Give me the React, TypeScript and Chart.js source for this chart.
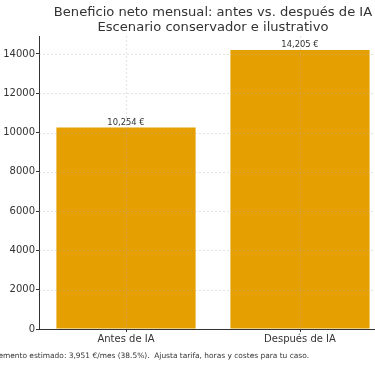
import React, { useEffect, useRef } from "react";
import { Chart, registerables } from "chart.js";

Chart.register(...registerables);

const categories = ["Antes de IA", "Después de IA"];
const netProfit = [10254, 14205];
const valueLabels = ["10,254 €", "14,205 €"];
const yTicks = [0, 2000, 4000, 6000, 8000, 10000, 12000, 14000];
const titleLines = [
  "Beneficio neto mensual: antes vs. después de IA",
  "Escenario conservador e ilustrativo",
];
const footnote =
  "Incremento estimado: 3,951 €/mes (38.5%).  Ajusta tarifa, horas y costes para tu caso.";
const yMax = 14915;

const FONT = "'DejaVu Sans', sans-serif";
const TEXT = "#333333";
const BAR = "#E69F00";
const SHIFT = 40; // canvas is shifted left so the figure is cropped like the reference
const CANVAS_W = 435;
const CANVAS_H = 366;

const overlay = {
  id: "overlay",
  afterDatasetsDraw(chart: any) {
    const ctx = chart.ctx;
    const { left, right, top, bottom } = chart.chartArea;
    const xs = chart.scales.x;
    const ys = chart.scales.y;
    // grid lines (drawn over bars like matplotlib default)
    ctx.save();
    ctx.strokeStyle = "rgba(176,176,176,0.45)";
    ctx.lineWidth = 0.8;
    ctx.setLineDash([2, 2]);
    yTicks.forEach((v) => {
      const y = Math.round(ys.getPixelForValue(v)) + 0.5;
      if (v === 0) return;
      ctx.beginPath();
      ctx.moveTo(left, y);
      ctx.lineTo(right, y);
      ctx.stroke();
    });
    categories.forEach((_, i) => {
      const x = Math.round(xs.getPixelForValue(i)) + 0.5;
      ctx.beginPath();
      ctx.moveTo(x, top);
      ctx.lineTo(x, bottom);
      ctx.stroke();
    });
    ctx.restore();

    // value labels
    ctx.save();
    ctx.fillStyle = TEXT;
    ctx.font = `8.4px ${FONT}`;
    ctx.textAlign = "center";
    ctx.textBaseline = "bottom";
    const meta = chart.getDatasetMeta(0);
    meta.data.forEach((bar: any, i: number) => {
      ctx.fillText(valueLabels[i], bar.x, bar.y - 1);
    });
    ctx.restore();
  },
  afterDraw(chart: any) {
    const ctx = chart.ctx;
    const { left, right } = chart.chartArea;
    const cx = (left + right) / 2;
    ctx.save();
    ctx.fillStyle = TEXT;
    ctx.textAlign = "center";
    ctx.textBaseline = "middle";
    ctx.font = `13.1px ${FONT}`;
    ctx.fillText(titleLines[0], cx, 13);
    ctx.fillText(titleLines[1], cx, 28);
    ctx.font = `7.45px ${FONT}`;
    ctx.textAlign = "right";
    ctx.fillText(footnote, SHIFT + 309, 356);
    ctx.restore();
  },
};

export default function App() {
  const ref = useRef<HTMLCanvasElement | null>(null);

  useEffect(() => {
    document.body.style.margin = "0";
    const canvas = ref.current!;
    const chart = new Chart(canvas, {
      type: "bar",
      data: {
        labels: categories,
        datasets: [
          {
            data: netProfit,
            backgroundColor: BAR,
            borderWidth: 0,
            barPercentage: 0.8,
            categoryPercentage: 1,
          },
        ],
      },
      options: {
        animation: false,
        responsive: false,
        maintainAspectRatio: false,
        devicePixelRatio: 1,
        layout: { padding: { left: 0, right: 8, top: 36, bottom: 0 } },
        plugins: {
          legend: { display: false },
          title: { display: false },
          tooltip: { enabled: false },
        },
        scales: {
          x: {
            type: "category",
            offset: true,
            grid: {
              display: true,
              drawOnChartArea: false,
              drawTicks: true,
              offset: false,
              tickLength: 3,
              tickColor: TEXT,
              tickWidth: 1,
            },
            border: { display: true, color: TEXT, width: 1 },
            ticks: {
              color: TEXT,
              font: { family: FONT, size: 10 },
              padding: 1,
              maxRotation: 0,
            },
            afterFit: (s: any) => {
              s.height = 37;
            },
          },
          y: {
            type: "linear",
            min: 0,
            max: yMax,
            grid: {
              display: true,
              drawOnChartArea: false,
              drawTicks: true,
              tickLength: 3,
              tickColor: TEXT,
              tickWidth: 1,
            },
            border: { display: true, color: TEXT, width: 1 },
            ticks: {
              color: TEXT,
              font: { family: FONT, size: 10 },
              padding: 1,
              callback: (v: any) => String(v),
            },
            afterBuildTicks: (s: any) => {
              s.ticks = yTicks.map((v) => ({ value: v }));
            },
            afterFit: (s: any) => {
              s.width = SHIFT + 39;
            },
          },
        },
      },
      plugins: [overlay],
    });
    return () => chart.destroy();
  }, []);

  return (
    <div
      style={{
        position: "fixed",
        left: 0,
        top: 0,
        width: 375,
        height: 366,
        overflow: "hidden",
        background: "#fff",
      }}
    >
      <canvas
        ref={ref}
        width={CANVAS_W}
        height={CANVAS_H}
        style={{
          position: "absolute",
          left: -SHIFT,
          top: 0,
          width: CANVAS_W,
          height: CANVAS_H,
        }}
      />
    </div>
  );
}
